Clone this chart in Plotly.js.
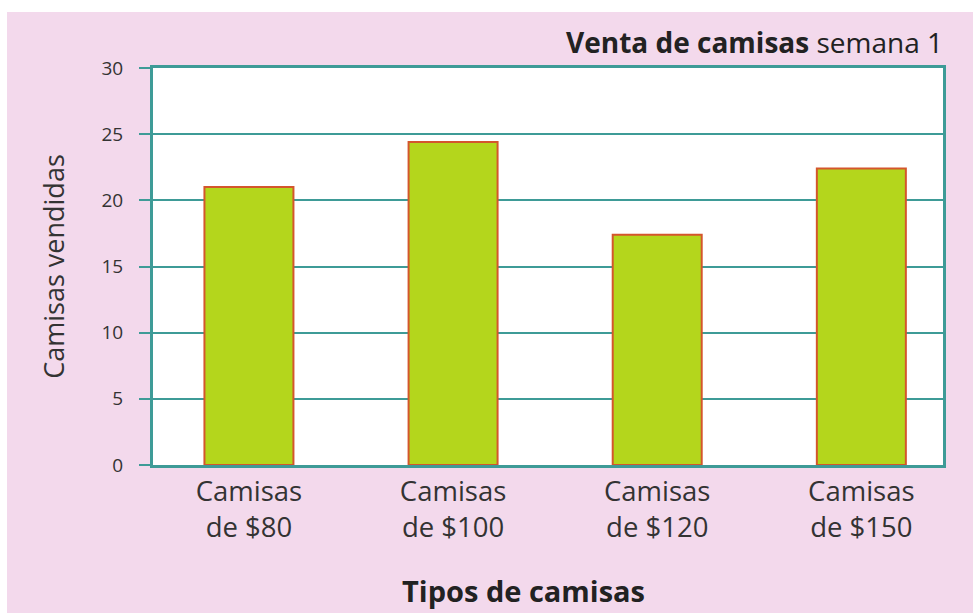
<!DOCTYPE html>
<html>
<head>
<meta charset="utf-8">
<script src="https://cdn.plot.ly/plotly-3.0.1.min.js"></script>
<style>html,body{margin:0;padding:0;background:#fff;}#chart{width:973px;height:613px;}</style>
</head>
<body>
<div id="chart"></div>
<script>
var categories = ["Camisas<br>de $80", "Camisas<br>de $100", "Camisas<br>de $120", "Camisas<br>de $150"];
var ventas = [21, 24.4, 17.4, 22.4];
var yTicks = [0, 5, 10, 15, 20, 25, 30];

var teal = "#3e9b97";
var pink = "#f3d9ec";
var fontFam = "'Open Sans', 'Noto Sans', sans-serif";

var trace = {
  type: "bar",
  x: categories,
  y: ventas,
  width: 0.436,
  marker: {color: "#b4d61c", line: {color: "#d4562c", width: 2}},
  hoverinfo: "x+y"
};

var layout = {
  width: 973, height: 613,
  paper_bgcolor: pink,
  plot_bgcolor: "#ffffff",
  margin: {l: 153, r: 30, t: 68, b: 148, pad: 0},
  showlegend: false,
  font: {family: fontFam, color: "#333333"},
  title: {
    text: "<b>Venta de camisas</b> semana 1",
    font: {family: fontFam, size: 28, color: "#222222"},
    xref: "paper", x: 1, xanchor: "right",
    yref: "container", y: 1 - 43/613, yanchor: "middle"
  },
  xaxis: {
    type: "category",
    range: [-0.47, 3.4],
    showgrid: false,
    ticks: "",
    showline: true, mirror: true, linecolor: teal, linewidth: 3,
    tickfont: {family: fontFam, size: 27.5, color: "#333333"},
    fixedrange: true
  },
  yaxis: {
    range: [0, 30],
    tickvals: yTicks,
    ticktext: yTicks.map(String),
    showgrid: true, gridcolor: teal, gridwidth: 2,
    zeroline: false,
    ticks: "outside", ticklen: 11, tickwidth: 2, tickcolor: teal,
    ticklabelstandoff: 12,
    showline: true, mirror: true, linecolor: teal, linewidth: 3,
    tickfont: {family: fontFam, size: 19, color: "#333333"},
    title: {text: "Camisas vendidas", font: {family: fontFam, size: 27, color: "#333333"}, standoff: 30},
    fixedrange: true
  },
  annotations: [
    {text: "<b>Tipos de camisas</b>", xref: "paper", yref: "paper", x: (523-153)/790, y: (465-590)/397,
     xanchor: "center", yanchor: "middle", showarrow: false,
     font: {family: fontFam, size: 29, color: "#222222"}}
  ],
  shapes: [
    {type: "rect", xref: "paper", yref: "paper", x0: -0.25, x1: 1.1, y0: 1 + (68-12)/397, y1: 1.3, fillcolor: "#ffffff", line: {width: 0}, layer: "below"},
    {type: "rect", xref: "paper", yref: "paper", x0: -0.25, x1: (7-153)/790, y0: -0.5, y1: 1.3, fillcolor: "#ffffff", line: {width: 0}, layer: "below"}
  ]
};

Plotly.newPlot("chart", [trace], layout, {displayModeBar: false, staticPlot: true});
</script>
</body>
</html>
